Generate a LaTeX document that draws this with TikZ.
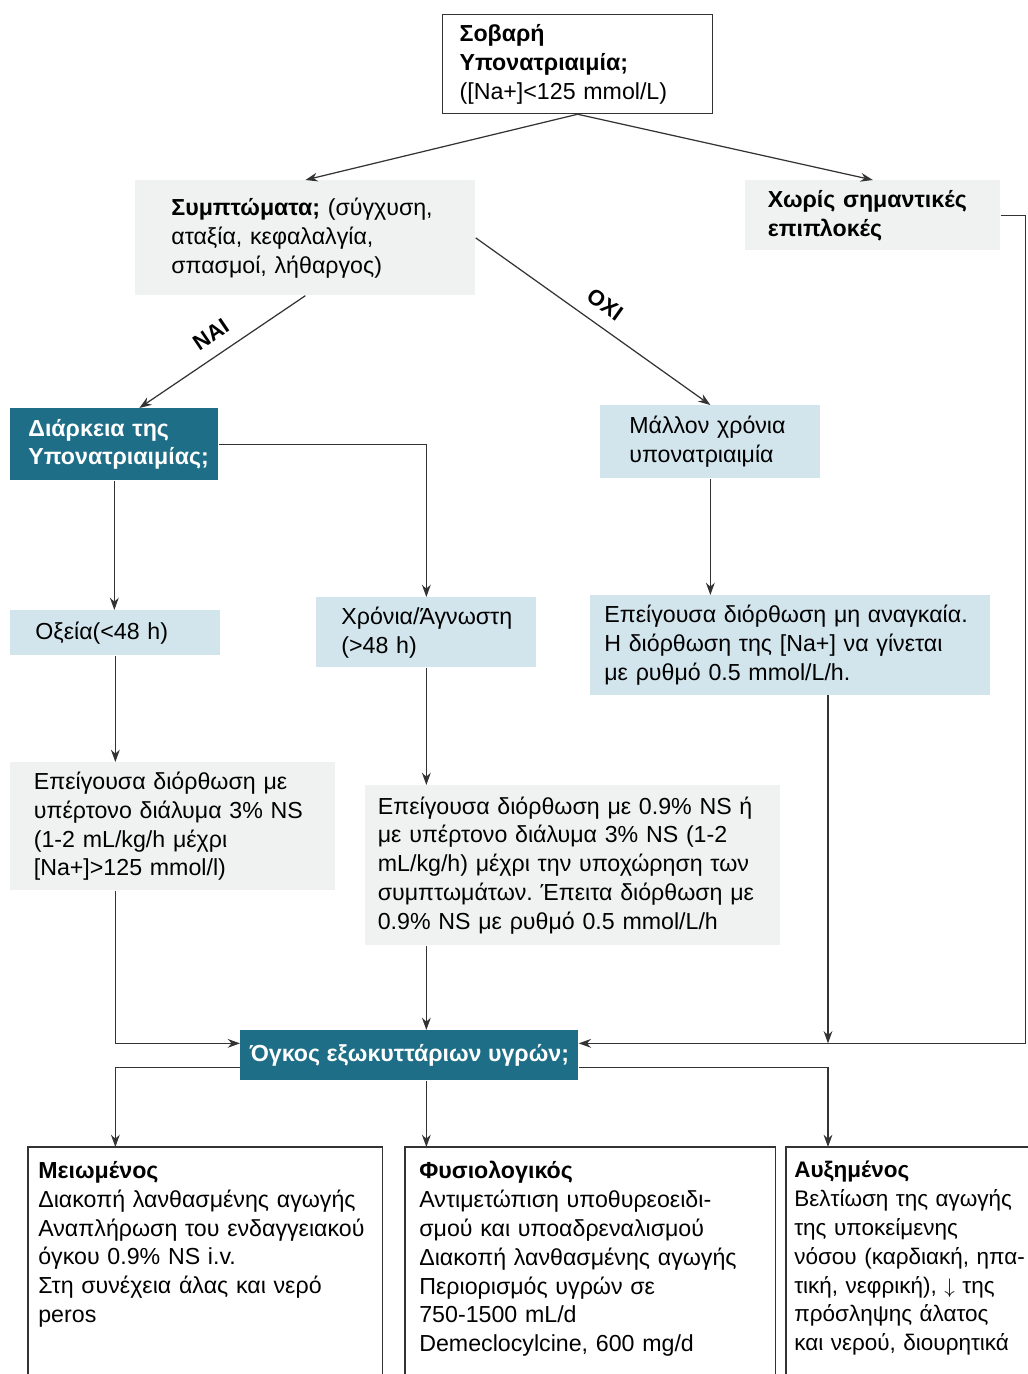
\documentclass[tikz,border=0pt]{standalone}
\usepackage{fontspec}
\setmainfont{Liberation Sans}
\usetikzlibrary{arrows.meta, positioning, calc}
\frenchspacing

\definecolor{tealbox}{HTML}{1F6E88}
\definecolor{paleblue}{HTML}{D2E5ED}
\definecolor{palegray}{HTML}{F0F2F2}
\definecolor{inkgray}{HTML}{333333}

\begin{document}
\begin{tikzpicture}[x=0.02cm, y=-0.02cm,
    every node/.style={font=\fontsize{13.2}{16.4}\selectfont},
    box/.style={rectangle, anchor=north west, align=left, inner sep=0pt},
    wh/.style 2 args={minimum width=#1*0.02cm, minimum height=#2*0.02cm},
    tw/.style={text width=#1*0.02cm},
    framebox/.style={box, draw=inkgray, line width=0.7pt, fill=white},
    greybox/.style={box, fill=palegray},
    bluebox/.style={box, fill=paleblue},
    darkbox/.style={box, fill=tealbox, text=white, font=\fontsize{13.2}{16.4}\selectfont\bfseries},
    arr/.style={-{Stealth[length=7pt, width=5pt]}, line width=0.7pt, draw=inkgray},
    frame/.style={line width=0.7pt, draw=inkgray},
    yesno/.style={font=\fontsize{12.5}{14}\selectfont\bfseries, inner sep=7pt}
]
\useasboundingbox (0,0) rectangle (1028,1374);
\clip (0,0) rectangle (1028,1374);

% decision boxes
\node[framebox, wh={270}{99}, tw=236] (sobari) at (442,14)
    {\textbf{Σοβαρή}\\\textbf{Υπονατριαιμία;}\\([Na+]<125 mmol/L)};
\node[greybox, wh={340}{115}, tw=268] (symp) at (135,180)
    {\textbf{Συμπτώματα;} (σύγχυση,\\αταξία, κεφαλαλγία,\\σπασμοί, λήθαργος)};
\node[greybox, wh={255}{70}, tw=210, font=\fontsize{13.2}{16.4}\selectfont\bfseries] (xwris) at (745,180)
    {Χωρίς σημαντικές\\επιπλοκές};
\node[darkbox, wh={208}{72}, tw=172] (diark) at (10,408)
    {Διάρκεια της\\Υπονατριαιμίας;};
\node[bluebox, wh={220}{73}, tw=162] (mallon) at (600,405)
    {Μάλλον χρόνια\\υπονατριαιμία};
\node[bluebox, wh={210}{45}, tw=160] (oxeia) at (10,610) {Οξεία(<48 h)};
\node[bluebox, wh={220}{70}, tw=170] (xronia) at (316,597)
    {Χρόνια/Άγνωστη\\(>48 h)};
\node[bluebox, wh={400}{100}, tw=372] (epeig) at (590,595)
    {Επείγουσα διόρθωση μη αναγκαία.\\Η διόρθωση της [Na+] να γίνεται\\με ρυθμό 0.5 mmol/L/h.};
\node[greybox, wh={325}{128}, tw=278] (diorth1) at (10,762)
    {Επείγουσα διόρθωση με\\υπέρτονο διάλυμα 3\% NS\\(1-2 mL/kg/h μέχρι\\{}[Na+]>125 mmol/l)};
\node[greybox, wh={415}{160}, tw=390] (diorth2) at (365,785)
    {Επείγουσα διόρθωση με 0.9\% NS ή\\με υπέρτονο διάλυμα 3\% NS (1-2\\mL/kg/h) μέχρι την υποχώρηση των\\συμπτωμάτων. Έπειτα διόρθωση με\\0.9\% NS με ρυθμό 0.5 mmol/L/h};
\node[darkbox, wh={338}{50}, align=center] (ogkos) at (240,1030)
    {Όγκος εξωκυττάριων υγρών;};

% treatment boxes, cut off by the page edge
\node[box, wh={354}{10}, tw=334, inner ysep=14*0.02cm] (meiwm) at (28,1147)
    {\textbf{Μειωμένος}\\Διακοπή λανθασμένης αγωγής\\Αναπλήρωση του ενδαγγειακού\\όγκου 0.9\% NS i.v.\\Στη συνέχεια άλας και νερό\\peros};
\node[box, wh={370}{10}, tw=342, inner ysep=14*0.02cm] (fysiol) at (405,1147)
    {\textbf{Φυσιολογικός}\\Αντιμετώπιση υποθυρεοειδι-\\σμού και υποαδρεναλισμού\\Διακοπή λανθασμένης αγωγής\\Περιορισμός υγρών σε\\750-1500 mL/d\\Demeclocylcine, 600 mg/d};
\node[box, wh={272}{10}, tw=256, inner ysep=14*0.02cm, font=\fontsize{12.8}{16.4}\selectfont] (auxim) at (786,1147)
    {\textbf{Αυξημένος}\\Βελτίωση της αγωγής\\της υποκείμενης\\νόσου (καρδιακή, ηπα-\\τική, νεφρική), $\downarrow$ της\\πρόσληψης άλατος\\και νερού, διουρητικά};
\foreach \b in {meiwm, fysiol, auxim}
    \draw[frame] ($(\b.north west)+(0,260)$) -- (\b.north west) -- (\b.north east) -- ++(0,260);

\coordinate (rcol) at (828,695);
\coordinate (ogin-w) at ($(ogkos.west)+(0,-12)$);
\coordinate (ogin-e) at ($(ogkos.east)+(0,-12)$);
\coordinate (ogout-w) at ($(ogkos.west)+(0,12)$);
\coordinate (ogout-e) at ($(ogkos.east)+(0,12)$);

% connectors
\draw[arr] (sobari.south) -- (symp.north);
\draw[arr] (sobari.south) -- (xwris.north);
\draw[arr] (symp.south) -- node[yesno, sloped, above] {ΝΑΙ} ([xshift=0.5cm]diark.north);
\draw[arr] (symp.east) -- node[yesno, sloped, above] {ΟΧΙ} (mallon.north);
\draw[arr] (diark.south) -- (diark.south |- oxeia.north);
\draw[arr] (diark.east) -| (xronia.north);
\draw[arr] (mallon.south) -- (mallon.south |- epeig.north);
\draw[arr] (oxeia.south) -- (oxeia.south |- diorth1.north);
\draw[arr] (xronia.south) -- (xronia.south |- diorth2.north);
\draw[arr] (oxeia.south |- diorth1.south) |- (ogin-w);
\draw[arr] (xronia.south |- diorth2.south) -- (xronia.south |- ogkos.north);
\draw[arr] (rcol) -- (rcol |- ogin-e);
\draw[arr] (xwris.east) -- ++(25,0) |- (ogin-e);
\draw[arr] (ogout-w) -| (oxeia.south |- meiwm.north);
\draw[arr] (xronia.south |- ogkos.south) -- (xronia.south |- fysiol.north);
\draw[arr] (ogout-e) -| (rcol |- auxim.north);
\end{tikzpicture}
\end{document}
